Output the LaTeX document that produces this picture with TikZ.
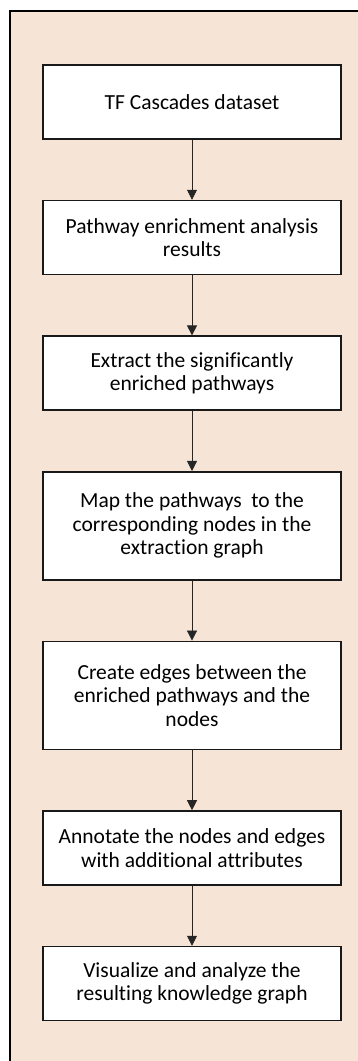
\documentclass[tikz,border=0pt]{standalone}
\usepackage{fontspec}
\setmainfont{Carlito}[RawFeature={-liga;-clig;-calt;-dlig}]
\usetikzlibrary{positioning,arrows.meta}
\definecolor{peach}{HTML}{F6E4D7}

\begin{document}
\begin{tikzpicture}[node distance=60pt, auto]
    % Define the styles for the steps and the arrows
    \tikzstyle{stage} = [rectangle, draw=black!90, line width=1.6pt, fill=white, align=center, minimum width=298pt, minimum height=74pt, inner sep=0pt, font=\fontsize{21.5pt}{23.5pt}\selectfont]
    \tikzstyle{flow} = [-{Triangle[width=10pt,length=10pt]}, line width=0.8pt, draw=black!85]

    % Page size and the background panel
    \useasboundingbox (0,0) rectangle (358pt,1061pt);
    \fill [peach] (10pt,0) rectangle (358pt,1050pt);
    \draw [line width=2.5pt] (10pt,-2pt) -- (10pt,1050pt) -- (360pt,1050pt);

    % Create the nodes for each step
    \node [stage] (dataset) at (192pt,959pt) {TF Cascades dataset};
    \node [stage, below=of dataset] (enrich) {Pathway enrichment analysis\\results};
    \node [stage, below=of enrich] (extract) {Extract the significantly\\enriched pathways};
    \node [stage, below=of extract, minimum height=108pt] (mapping) {Map the pathways\ \ to the\\corresponding nodes in the\\extraction graph};
    \node [stage, below=of mapping, minimum height=108pt] (edges) {Create edges between the\\enriched pathways and the\\nodes};
    \node [stage, below=of edges] (annotate) {Annotate the nodes and edges\\with additional attributes};
    \node [stage, below=of annotate] (visual) {Visualize and analyze the\\resulting knowledge graph};

    % Draw the arrows between the steps
    \draw [flow] (dataset) -- (enrich);
    \draw [flow] (enrich) -- (extract);
    \draw [flow] (extract) -- (mapping);
    \draw [flow] (mapping) -- (edges);
    \draw [flow] (edges) -- (annotate);
    \draw [flow] (annotate) -- (visual);
\end{tikzpicture}
\end{document}
